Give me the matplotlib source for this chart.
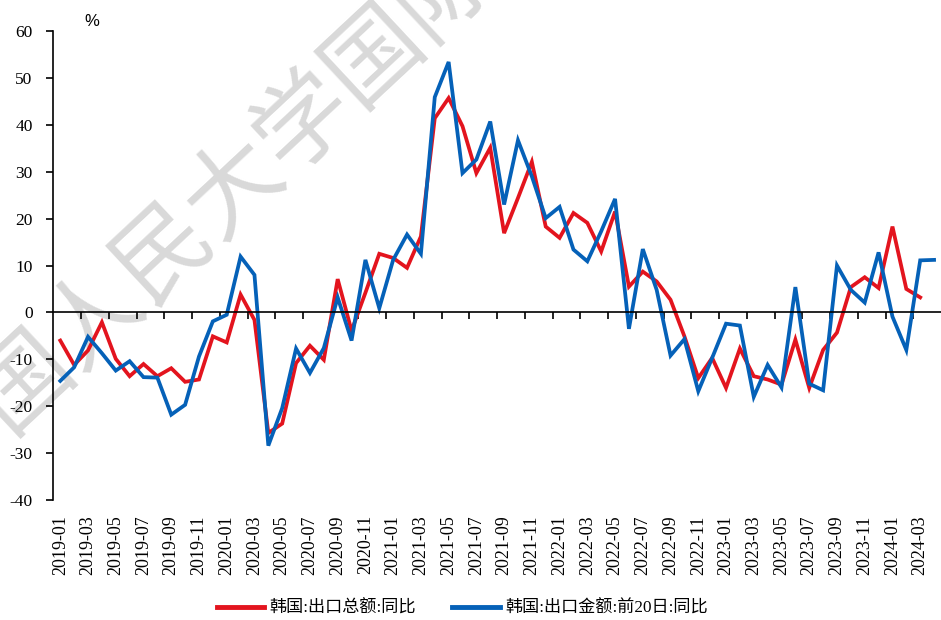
import matplotlib
matplotlib.use("Agg")
import matplotlib.pyplot as plt
import numpy as np
import pandas as pd

plt.rcParams['font.family'] = ['Liberation Serif', 'Noto Sans CJK SC']

# 月份 2019-01 ~ 2024-04
months = pd.period_range('2019-01', '2024-04', freq='M').strftime('%Y-%m').tolist()

# 韩国:出口总额:同比 (到 2024-03)
export_total = [-6.0, -11.2, -8.1, -2.1, -9.9, -13.6, -11.0, -13.6, -11.9, -14.8,
                -14.3, -5.1, -6.4, 3.8, -1.6, -25.7, -23.7, -10.8, -7.1, -10.1,
                7.1, -3.9, 4.2, 12.5, 11.6, 9.5, 16.2, 41.4, 45.7, 39.7,
                29.7, 35.1, 16.9, 24.4, 32.1, 18.3, 15.9, 21.2, 19.1, 13.0,
                21.5, 5.5, 8.7, 6.6, 2.7, -5.1, -14.0, -9.7, -16.1, -7.7,
                -13.6, -14.3, -15.4, -5.8, -16.1, -8.0, -4.3, 5.4, 7.5, 5.2,
                18.3, 5.0, 3.2]

# 韩国:出口金额:前20日:同比 (到 2024-04)
export_20d = [-14.6, -11.7, -5.2, -8.7, -12.4, -10.4, -13.8, -13.9, -21.8, -19.7,
              -9.4, -1.9, -0.5, 11.9, 8.0, -28.4, -20.4, -7.7, -12.9, -7.6,
              3.2, -6.0, 11.2, 0.9, 11.2, 16.6, 12.5, 45.9, 53.4, 29.7,
              32.6, 40.7, 23.0, 36.7, 29.0, 20.1, 22.5, 13.4, 10.9, 17.3,
              24.2, -3.5, 13.5, 4.8, -9.2, -5.7, -16.8, -9.7, -2.4, -2.8,
              -18.0, -11.2, -16.0, 5.4, -15.2, -16.6, 10.0, 4.8, 2.1, 12.8,
              -0.9, -8.0, 11.1, 11.2]

yticks = [60, 50, 40, 30, 20, 10, 0, -10, -20, -30, -40]

fig = plt.figure(figsize=(9.41, 6.2), dpi=100)
ax = fig.add_axes([0.0567, 0.1935, 0.9433, 0.7565])
ax.patch.set_alpha(0)

# 水印
fig.text(0.2476, 0.7032, '国人民大学国际', fontsize=69, color='#d9d9d9',
         family=['Noto Sans CJK SC'], rotation=43, rotation_mode='anchor',
         ha='center', va='center', zorder=-1)

x_red = np.arange(len(export_total))
x_blue = np.arange(len(export_20d))
l1, = ax.plot(x_red, export_total, color='#e3141e', lw=2.7, solid_joinstyle='miter')
l2, = ax.plot(x_blue, export_20d, color='#0561b8', lw=2.7, solid_joinstyle='miter')

ax.set_xlim(-0.5, len(months) - 0.5)
ax.set_ylim(-40, 60)
ax.set_yticks(yticks)
ax.set_yticklabels([str(v) for v in yticks])
ax.tick_params(axis='y', direction='out', length=5, width=1.2, pad=10, labelsize=12.5)

for s in ['top', 'right']:
    ax.spines[s].set_visible(False)
ax.spines['left'].set_linewidth(1.2)
ax.spines['bottom'].set_position(('data', 0))
ax.spines['bottom'].set_linewidth(1.2)

ax.set_xticks(np.arange(0, len(months), 2))
ax.set_xticklabels(months[::2], rotation=90)
ax.set_xticks(np.arange(1.5, len(months) - 1, 2), minor=True)
ax.tick_params(axis='x', which='major', length=0, pad=146, labelsize=13)
ax.tick_params(axis='x', which='minor', direction='out', length=5, width=1.2)

fig.text(0.098, 0.965, '%', fontsize=12, family=['Liberation Sans'], ha='center', va='center')

leg = fig.legend([l1, l2], ['韩国:出口总额:同比', '韩国:出口金额:前20日:同比'],
                 loc='center', bbox_to_anchor=(0.491, 0.018), ncol=2, frameon=False,
                 fontsize=12.3, handlelength=2.8, handletextpad=0.3, columnspacing=2.1,
                 borderpad=0, borderaxespad=0)
for h in leg.get_lines():
    h.set_linewidth(3.5)

fig.savefig('out.png', dpi=100)
